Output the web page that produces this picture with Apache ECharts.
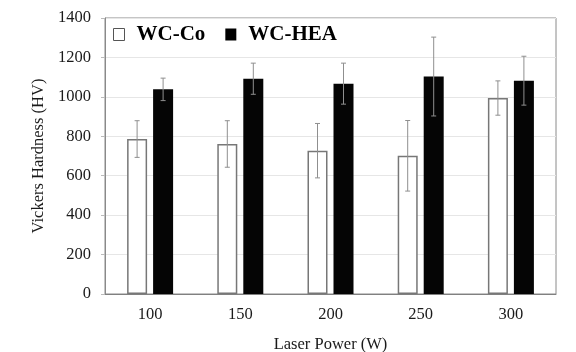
<!DOCTYPE html>
<html>
<head>
<meta charset="utf-8">
<script src="https://cdn.jsdelivr.net/npm/echarts@6/dist/echarts.min.js"></script>
<style>html,body{margin:0;padding:0;background:#fff;}#c{width:576px;height:352px;}</style>
</head>
<body>
<div id="c"></div>
<script>
var categories = ['100', '150', '200', '250', '300'];
var wcCo = [786, 761, 727, 701, 994];
var wcCoErr = [93, 118, 138, 179, 87];
var wcHea = [1038, 1092, 1067, 1103, 1082];
var wcHeaErr = [57, 79, 104, 200, 124];
var yTicks = [0, 200, 400, 600, 800, 1000, 1200, 1400];

var FONT = 'Liberation Serif';
var BAR_W = 20, GAP = 6;
var OFFSET = (BAR_W + GAP) / 2;

function errData(vals, errs) {
  return vals.map(function (v, i) { return [i, v - errs[i], v + errs[i]]; });
}
function errRender(offset) {
  return function (params, api) {
    var lo = api.coord([api.value(0), api.value(1)]);
    var hi = api.coord([api.value(0), api.value(2)]);
    var x = lo[0] + offset;
    var cap = 2.5;
    var st = { stroke: '#8f8f8f', lineWidth: 1 };
    return {
      type: 'group',
      children: [
        { type: 'line', shape: { x1: x, y1: lo[1], x2: x, y2: hi[1] }, style: st },
        { type: 'line', shape: { x1: x - cap, y1: lo[1], x2: x + cap, y2: lo[1] }, style: st },
        { type: 'line', shape: { x1: x - cap, y1: hi[1], x2: x + cap, y2: hi[1] }, style: st }
      ]
    };
  };
}

var chart = echarts.init(document.getElementById('c'), null, { renderer: 'canvas' });
chart.setOption({
  animation: false,
  backgroundColor: '#fff',
  textStyle: { fontFamily: FONT },
  grid: { left: 105, right: 20, top: 18, bottom: 58, show: true, borderColor: '#8a8a8a', borderWidth: 1,
    outerBoundsMode: 'none', containLabel: false },
  legend: {
    left: 108, top: 19,
    itemWidth: 11, itemHeight: 12, itemGap: 20,
    textStyle: { fontFamily: FONT, fontWeight: 'bold', fontSize: 21, color: '#000', padding: [2, 0, 0, 7] },
    data: [
      { name: 'WC-Co', icon: 'rect', itemStyle: { color: '#fff', borderColor: '#555', borderWidth: 1 } },
      { name: 'WC-HEA', icon: 'rect', itemStyle: { color: '#000' } }
    ]
  },
  xAxis: {
    type: 'category',
    data: categories,
    name: 'Laser Power (W)',
    nameLocation: 'middle',
    nameGap: 42,
    nameTextStyle: { fontFamily: FONT, fontSize: 16.5, color: '#1a1a1a' },
    axisLine: { lineStyle: { color: '#808080' } },
    axisTick: { show: false },
    axisLabel: { fontFamily: FONT, fontSize: 16.5, color: '#1a1a1a', margin: 12 }
  },
  yAxis: {
    type: 'value',
    min: 0, max: 1400, interval: 200,
    name: 'Vickers Hardness (HV)',
    nameLocation: 'middle',
    nameGap: 57,
    nameTextStyle: { fontFamily: FONT, fontSize: 16.5, color: '#1a1a1a' },
    axisLine: { show: true, lineStyle: { color: '#8a8a8a' } },
    axisTick: { show: true, length: 4, lineStyle: { color: '#bbb' } },
    axisLabel: { fontFamily: FONT, fontSize: 16.5, color: '#1a1a1a', margin: 14,
      formatter: function (v) { return yTicks.indexOf(v) >= 0 ? String(v) : ''; } },
    splitLine: { lineStyle: { color: '#e6e6e6' } }
  },
  series: [
    { name: 'WC-Co', type: 'bar', data: wcCo, barWidth: BAR_W, barGap: (GAP / BAR_W * 100) + '%',
      itemStyle: { color: '#fff', borderColor: '#777', borderWidth: 1.5 } },
    { name: 'WC-HEA', type: 'bar', data: wcHea, barWidth: BAR_W,
      itemStyle: { color: '#050505' } },
    { name: 'errCo', type: 'custom', data: errData(wcCo, wcCoErr), renderItem: errRender(-OFFSET), z: 10,
      encode: { x: 0, y: [1, 2] } },
    { name: 'errHea', type: 'custom', data: errData(wcHea, wcHeaErr), renderItem: errRender(OFFSET), z: 10,
      encode: { x: 0, y: [1, 2] } }
  ]
});
</script>
</body>
</html>
